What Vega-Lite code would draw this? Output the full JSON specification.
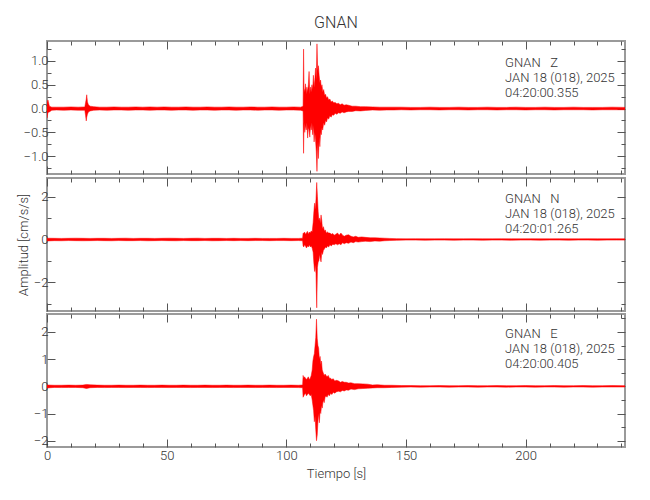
{
  "$schema": "https://vega.github.io/schema/vega-lite/v6.json",
  "padding": {"left": 16, "top": 13, "right": 20, "bottom": 10},
  "spacing": -1,
  "config": {
    "font": "Roboto, Liberation Sans, sans-serif",
    "view": {"stroke": "#9a9a9a", "strokeWidth": 2},
    "axis": {"labelFontSize": 13, "labelFontWeight": 300, "labelColor": "#333333", "titleFontSize": 13, "titleColor": "#333333", "titleFontWeight": 300, "domain": false, "grid": false, "tickColor": "#555555", "tickWidth": 1, "labelOverlap": false, "labelFlush": false, "labelBound": false},
    "title": {"fontSize": 16, "fontWeight": 300, "color": "#333333"}
  },
  "datasets": {
    "Z": [
      {"t":0,"lo":-0.2,"hi":0.12},{"t":0.4,"lo":-0.08,"hi":0.18},{"t":1,"lo":-0.07,"hi":0.05},{"t":2,"lo":-0.035,"hi":0.03},{"t":4,"lo":-0.03,"hi":0.03},{"t":7,"lo":-0.035,"hi":0.03},{"t":10,"lo":-0.03,"hi":0.035},{"t":13,"lo":-0.035,"hi":0.03},{"t":15.8,"lo":-0.035,"hi":0.035},{"t":16.1,"lo":-0.14,"hi":0.12},{"t":16.4,"lo":-0.26,"hi":0.2},{"t":16.6,"lo":-0.18,"hi":0.29},{"t":16.9,"lo":-0.12,"hi":0.14},{"t":17.3,"lo":-0.07,"hi":0.08},{"t":18,"lo":-0.05,"hi":0.05},{"t":19.5,"lo":-0.035,"hi":0.04},{"t":22,"lo":-0.03,"hi":0.03},{"t":25,"lo":-0.035,"hi":0.03},{"t":28,"lo":-0.03,"hi":0.035},{"t":31,"lo":-0.03,"hi":0.03},{"t":34,"lo":-0.035,"hi":0.03},{"t":37,"lo":-0.03,"hi":0.035},{"t":40,"lo":-0.03,"hi":0.03},{"t":43,"lo":-0.035,"hi":0.035},{"t":46,"lo":-0.03,"hi":0.03},{"t":49,"lo":-0.03,"hi":0.035},{"t":52,"lo":-0.035,"hi":0.03},{"t":55,"lo":-0.03,"hi":0.03},{"t":58,"lo":-0.03,"hi":0.035},{"t":61,"lo":-0.035,"hi":0.03},{"t":64,"lo":-0.03,"hi":0.03},{"t":67,"lo":-0.03,"hi":0.035},{"t":70,"lo":-0.035,"hi":0.03},{"t":73,"lo":-0.03,"hi":0.03},{"t":76,"lo":-0.03,"hi":0.035},{"t":79,"lo":-0.035,"hi":0.03},{"t":82,"lo":-0.03,"hi":0.03},{"t":85,"lo":-0.03,"hi":0.035},{"t":88,"lo":-0.035,"hi":0.03},{"t":91,"lo":-0.03,"hi":0.03},{"t":94,"lo":-0.03,"hi":0.035},{"t":97,"lo":-0.035,"hi":0.03},{"t":100,"lo":-0.03,"hi":0.03},{"t":103,"lo":-0.03,"hi":0.035},{"t":106,"lo":-0.035,"hi":0.03},
      {"t":107.0,"lo":-0.05,"hi":0.05},{"t":107.2,"lo":-0.94,"hi":1.25},{"t":107.4,"lo":-0.3,"hi":0.42},{"t":107.7,"lo":-0.5,"hi":0.35},{"t":108.0,"lo":-0.35,"hi":0.52},{"t":108.3,"lo":-0.45,"hi":0.3},{"t":108.6,"lo":-0.3,"hi":0.45},{"t":108.9,"lo":-0.62,"hi":0.35},{"t":109.2,"lo":-0.4,"hi":0.5},{"t":109.5,"lo":-0.45,"hi":0.78},{"t":109.8,"lo":-0.6,"hi":0.3},{"t":110.1,"lo":-0.35,"hi":0.45},{"t":110.4,"lo":-0.45,"hi":0.35},{"t":110.7,"lo":-0.3,"hi":0.5},{"t":111.0,"lo":-0.55,"hi":0.4},{"t":111.3,"lo":-0.35,"hi":0.7},{"t":111.6,"lo":-0.7,"hi":0.45},{"t":111.9,"lo":-0.5,"hi":0.6},{"t":112.2,"lo":-0.65,"hi":0.85},{"t":112.5,"lo":-0.9,"hi":0.6},{"t":112.8,"lo":-1.32,"hi":1.36},{"t":113.1,"lo":-0.7,"hi":0.8},{"t":113.4,"lo":-1.05,"hi":0.9},{"t":113.7,"lo":-0.6,"hi":0.7},{"t":114.0,"lo":-0.8,"hi":0.55},{"t":114.3,"lo":-0.5,"hi":0.6},{"t":114.6,"lo":-0.55,"hi":0.45},{"t":114.9,"lo":-0.4,"hi":0.5},{"t":115.2,"lo":-0.45,"hi":0.35},{"t":115.6,"lo":-0.3,"hi":0.4},{"t":116.0,"lo":-0.35,"hi":0.28},{"t":116.4,"lo":-0.25,"hi":0.3},{"t":116.8,"lo":-0.28,"hi":0.22},{"t":117.2,"lo":-0.2,"hi":0.25},{"t":117.7,"lo":-0.22,"hi":0.18},{"t":118.2,"lo":-0.15,"hi":0.2},{"t":118.7,"lo":-0.18,"hi":0.14},{"t":119.2,"lo":-0.13,"hi":0.16},{"t":119.8,"lo":-0.14,"hi":0.12},{"t":120.4,"lo":-0.1,"hi":0.13},{"t":121.1,"lo":-0.12,"hi":0.1},{"t":121.8,"lo":-0.09,"hi":0.11},{"t":122.5,"lo":-0.1,"hi":0.08},{"t":123.3,"lo":-0.07,"hi":0.1},{"t":124.1,"lo":-0.09,"hi":0.07},{"t":125.0,"lo":-0.07,"hi":0.08},{"t":126.0,"lo":-0.06,"hi":0.07},{"t":127.5,"lo":-0.06,"hi":0.05},{"t":129.0,"lo":-0.045,"hi":0.05},{"t":131.0,"lo":-0.05,"hi":0.04},{"t":133.0,"lo":-0.04,"hi":0.04},
      {"t":136,"lo":-0.03,"hi":0.035},{"t":139,"lo":-0.035,"hi":0.03},{"t":142,"lo":-0.03,"hi":0.03},{"t":145,"lo":-0.03,"hi":0.03},{"t":148,"lo":-0.025,"hi":0.03},{"t":152,"lo":-0.03,"hi":0.025},{"t":156,"lo":-0.025,"hi":0.025},{"t":160,"lo":-0.025,"hi":0.03},{"t":164,"lo":-0.03,"hi":0.025},{"t":168,"lo":-0.025,"hi":0.025},{"t":172,"lo":-0.025,"hi":0.03},{"t":176,"lo":-0.03,"hi":0.025},{"t":180,"lo":-0.025,"hi":0.025},{"t":184,"lo":-0.025,"hi":0.03},{"t":188,"lo":-0.03,"hi":0.025},{"t":192,"lo":-0.025,"hi":0.025},{"t":196,"lo":-0.025,"hi":0.03},{"t":200,"lo":-0.03,"hi":0.025},{"t":204,"lo":-0.025,"hi":0.025},{"t":208,"lo":-0.025,"hi":0.03},{"t":212,"lo":-0.03,"hi":0.025},{"t":216,"lo":-0.025,"hi":0.025},{"t":220,"lo":-0.025,"hi":0.03},{"t":224,"lo":-0.025,"hi":0.025},{"t":228,"lo":-0.03,"hi":0.025},{"t":232,"lo":-0.025,"hi":0.025},{"t":236,"lo":-0.025,"hi":0.03},{"t":241.5,"lo":-0.025,"hi":0.025}
    ],
    "N": [
      {"t":0,"lo":-0.07,"hi":0.06},{"t":3,"lo":-0.055,"hi":0.055},{"t":6,"lo":-0.06,"hi":0.05},{"t":9,"lo":-0.05,"hi":0.055},{"t":12,"lo":-0.055,"hi":0.06},{"t":15,"lo":-0.06,"hi":0.055},{"t":18,"lo":-0.055,"hi":0.05},{"t":21,"lo":-0.05,"hi":0.055},{"t":24,"lo":-0.055,"hi":0.055},{"t":27,"lo":-0.06,"hi":0.05},{"t":30,"lo":-0.05,"hi":0.055},{"t":33,"lo":-0.055,"hi":0.06},{"t":36,"lo":-0.055,"hi":0.05},{"t":39,"lo":-0.05,"hi":0.055},{"t":42,"lo":-0.06,"hi":0.055},{"t":45,"lo":-0.055,"hi":0.05},{"t":48,"lo":-0.05,"hi":0.055},{"t":51,"lo":-0.055,"hi":0.06},{"t":54,"lo":-0.06,"hi":0.055},{"t":57,"lo":-0.05,"hi":0.05},{"t":60,"lo":-0.055,"hi":0.055},{"t":63,"lo":-0.055,"hi":0.06},{"t":66,"lo":-0.05,"hi":0.05},{"t":69,"lo":-0.06,"hi":0.055},{"t":72,"lo":-0.055,"hi":0.055},{"t":75,"lo":-0.05,"hi":0.05},{"t":78,"lo":-0.055,"hi":0.055},{"t":81,"lo":-0.05,"hi":0.05},{"t":84,"lo":-0.055,"hi":0.05},{"t":87,"lo":-0.05,"hi":0.055},{"t":90,"lo":-0.05,"hi":0.05},{"t":93,"lo":-0.055,"hi":0.05},{"t":96,"lo":-0.05,"hi":0.05},{"t":99,"lo":-0.05,"hi":0.055},{"t":102,"lo":-0.055,"hi":0.05},{"t":105,"lo":-0.05,"hi":0.05},{"t":106.8,"lo":-0.06,"hi":0.06},
      {"t":107.0,"lo":-0.3,"hi":0.3},{"t":107.3,"lo":-0.35,"hi":0.28},{"t":107.6,"lo":-0.25,"hi":0.35},{"t":108.0,"lo":-0.3,"hi":0.25},{"t":108.4,"lo":-0.4,"hi":0.3},{"t":108.8,"lo":-0.3,"hi":0.38},{"t":109.2,"lo":-0.35,"hi":0.25},{"t":109.6,"lo":-0.25,"hi":0.35},{"t":110.0,"lo":-0.35,"hi":0.3},{"t":110.4,"lo":-0.3,"hi":0.4},{"t":110.8,"lo":-0.4,"hi":0.35},{"t":111.2,"lo":-0.6,"hi":0.8},{"t":111.5,"lo":-1.1,"hi":1.3},{"t":111.8,"lo":-1.5,"hi":1.7},{"t":112.1,"lo":-1.2,"hi":1.4},{"t":112.4,"lo":-1.6,"hi":1.9},{"t":112.7,"lo":-3.2,"hi":2.67},{"t":113.0,"lo":-1.3,"hi":2.0},{"t":113.3,"lo":-1.05,"hi":1.3},{"t":113.6,"lo":-1.0,"hi":0.9},{"t":113.9,"lo":-0.7,"hi":1.0},{"t":114.2,"lo":-0.9,"hi":0.75},{"t":114.5,"lo":-1.05,"hi":1.15},{"t":114.8,"lo":-0.6,"hi":0.9},{"t":115.1,"lo":-0.7,"hi":0.5},{"t":115.5,"lo":-0.5,"hi":0.6},{"t":115.9,"lo":-0.45,"hi":0.4},{"t":116.3,"lo":-0.35,"hi":0.45},{"t":116.7,"lo":-0.4,"hi":0.3},{"t":117.2,"lo":-0.3,"hi":0.35},{"t":117.7,"lo":-0.35,"hi":0.3},{"t":118.2,"lo":-0.25,"hi":0.3},{"t":118.8,"lo":-0.3,"hi":0.25},{"t":119.4,"lo":-0.22,"hi":0.28},{"t":120.0,"lo":-0.25,"hi":0.2},{"t":120.7,"lo":-0.2,"hi":0.25},{"t":121.4,"lo":-0.25,"hi":0.3},{"t":122.1,"lo":-0.2,"hi":0.2},{"t":122.8,"lo":-0.25,"hi":0.3},{"t":123.5,"lo":-0.15,"hi":0.2},{"t":124.2,"lo":-0.2,"hi":0.15},{"t":125.0,"lo":-0.15,"hi":0.2},{"t":126.0,"lo":-0.18,"hi":0.22},{"t":127.0,"lo":-0.12,"hi":0.15},{"t":128.0,"lo":-0.15,"hi":0.12},{"t":129.0,"lo":-0.1,"hi":0.15},{"t":130.0,"lo":-0.12,"hi":0.1},{"t":131.5,"lo":-0.1,"hi":0.12},{"t":133.0,"lo":-0.08,"hi":0.1},{"t":135.0,"lo":-0.1,"hi":0.08},{"t":137.0,"lo":-0.07,"hi":0.08},{"t":139.0,"lo":-0.08,"hi":0.07},{"t":141.0,"lo":-0.06,"hi":0.06},{"t":143.0,"lo":-0.05,"hi":0.05},
      {"t":146,"lo":-0.04,"hi":0.04},{"t":150,"lo":-0.03,"hi":0.03},{"t":154,"lo":-0.03,"hi":0.035},{"t":158,"lo":-0.035,"hi":0.03},{"t":162,"lo":-0.03,"hi":0.03},{"t":166,"lo":-0.03,"hi":0.035},{"t":170,"lo":-0.035,"hi":0.03},{"t":174,"lo":-0.03,"hi":0.03},{"t":178,"lo":-0.03,"hi":0.035},{"t":182,"lo":-0.035,"hi":0.03},{"t":186,"lo":-0.03,"hi":0.03},{"t":190,"lo":-0.03,"hi":0.035},{"t":194,"lo":-0.035,"hi":0.03},{"t":198,"lo":-0.03,"hi":0.03},{"t":202,"lo":-0.03,"hi":0.035},{"t":206,"lo":-0.035,"hi":0.03},{"t":210,"lo":-0.03,"hi":0.03},{"t":214,"lo":-0.03,"hi":0.035},{"t":218,"lo":-0.035,"hi":0.03},{"t":222,"lo":-0.03,"hi":0.03},{"t":226,"lo":-0.03,"hi":0.035},{"t":230,"lo":-0.035,"hi":0.03},{"t":234,"lo":-0.03,"hi":0.03},{"t":238,"lo":-0.03,"hi":0.035},{"t":241.5,"lo":-0.03,"hi":0.03}
    ],
    "E": [
      {"t":0,"lo":-0.06,"hi":0.05},{"t":3,"lo":-0.04,"hi":0.04},{"t":6,"lo":-0.045,"hi":0.04},{"t":9,"lo":-0.04,"hi":0.045},{"t":12,"lo":-0.04,"hi":0.04},{"t":15,"lo":-0.05,"hi":0.045},{"t":16.5,"lo":-0.08,"hi":0.07},{"t":18,"lo":-0.05,"hi":0.055},{"t":21,"lo":-0.04,"hi":0.045},{"t":24,"lo":-0.045,"hi":0.04},{"t":27,"lo":-0.04,"hi":0.04},{"t":30,"lo":-0.04,"hi":0.045},{"t":33,"lo":-0.045,"hi":0.04},{"t":36,"lo":-0.04,"hi":0.04},{"t":39,"lo":-0.04,"hi":0.045},{"t":42,"lo":-0.045,"hi":0.04},{"t":45,"lo":-0.04,"hi":0.04},{"t":48,"lo":-0.04,"hi":0.045},{"t":51,"lo":-0.045,"hi":0.04},{"t":54,"lo":-0.04,"hi":0.04},{"t":57,"lo":-0.04,"hi":0.045},{"t":60,"lo":-0.045,"hi":0.04},{"t":63,"lo":-0.04,"hi":0.04},{"t":66,"lo":-0.04,"hi":0.045},{"t":69,"lo":-0.045,"hi":0.04},{"t":72,"lo":-0.04,"hi":0.04},{"t":75,"lo":-0.04,"hi":0.045},{"t":78,"lo":-0.045,"hi":0.04},{"t":81,"lo":-0.04,"hi":0.04},{"t":84,"lo":-0.04,"hi":0.045},{"t":87,"lo":-0.045,"hi":0.04},{"t":90,"lo":-0.04,"hi":0.04},{"t":93,"lo":-0.04,"hi":0.045},{"t":96,"lo":-0.045,"hi":0.04},{"t":99,"lo":-0.04,"hi":0.04},{"t":102,"lo":-0.04,"hi":0.045},{"t":105,"lo":-0.045,"hi":0.04},{"t":106.8,"lo":-0.05,"hi":0.05},
      {"t":107.0,"lo":-0.4,"hi":0.4},{"t":107.3,"lo":-0.35,"hi":0.3},{"t":107.6,"lo":-0.3,"hi":0.35},{"t":108.0,"lo":-0.25,"hi":0.3},{"t":108.4,"lo":-0.35,"hi":0.25},{"t":108.8,"lo":-0.3,"hi":0.3},{"t":109.2,"lo":-0.25,"hi":0.35},{"t":109.6,"lo":-0.3,"hi":0.25},{"t":110.0,"lo":-0.35,"hi":0.3},{"t":110.4,"lo":-0.3,"hi":0.4},{"t":110.8,"lo":-0.5,"hi":0.6},{"t":111.1,"lo":-0.7,"hi":0.93},{"t":111.4,"lo":-0.9,"hi":1.1},{"t":111.7,"lo":-1.3,"hi":1.2},{"t":112.0,"lo":-1.1,"hi":1.5},{"t":112.3,"lo":-1.6,"hi":1.8},{"t":112.6,"lo":-2.0,"hi":2.47},{"t":112.9,"lo":-1.8,"hi":1.77},{"t":113.2,"lo":-1.3,"hi":1.5},{"t":113.5,"lo":-1.0,"hi":1.4},{"t":113.8,"lo":-1.34,"hi":1.0},{"t":114.1,"lo":-0.9,"hi":1.1},{"t":114.4,"lo":-1.0,"hi":0.8},{"t":114.7,"lo":-0.7,"hi":0.93},{"t":115.0,"lo":-0.8,"hi":0.6},{"t":115.4,"lo":-0.5,"hi":0.5},{"t":115.8,"lo":-0.6,"hi":0.4},{"t":116.2,"lo":-0.4,"hi":0.45},{"t":116.6,"lo":-0.35,"hi":0.4},{"t":117.0,"lo":-0.4,"hi":0.35},{"t":117.5,"lo":-0.3,"hi":0.4},{"t":118.0,"lo":-0.35,"hi":0.3},{"t":118.5,"lo":-0.25,"hi":0.3},{"t":119.0,"lo":-0.3,"hi":0.25},{"t":119.6,"lo":-0.22,"hi":0.28},{"t":120.2,"lo":-0.25,"hi":0.2},{"t":121.0,"lo":-0.2,"hi":0.22},{"t":121.8,"lo":-0.18,"hi":0.2},{"t":122.6,"lo":-0.2,"hi":0.15},{"t":123.4,"lo":-0.15,"hi":0.18},{"t":124.2,"lo":-0.17,"hi":0.15},{"t":125.0,"lo":-0.13,"hi":0.15},{"t":126.0,"lo":-0.14,"hi":0.12},{"t":127.0,"lo":-0.1,"hi":0.13},{"t":128.5,"lo":-0.12,"hi":0.1},{"t":130.0,"lo":-0.09,"hi":0.1},{"t":132.0,"lo":-0.08,"hi":0.09},{"t":134.0,"lo":-0.07,"hi":0.08},{"t":136.0,"lo":-0.06,"hi":0.05},{"t":138.0,"lo":-0.05,"hi":0.06},{"t":141.0,"lo":-0.05,"hi":0.04},{"t":144.0,"lo":-0.04,"hi":0.04},
      {"t":148,"lo":-0.03,"hi":0.03},{"t":152,"lo":-0.025,"hi":0.03},{"t":156,"lo":-0.03,"hi":0.025},{"t":160,"lo":-0.025,"hi":0.025},{"t":164,"lo":-0.025,"hi":0.03},{"t":168,"lo":-0.03,"hi":0.025},{"t":172,"lo":-0.025,"hi":0.025},{"t":176,"lo":-0.025,"hi":0.03},{"t":180,"lo":-0.03,"hi":0.025},{"t":184,"lo":-0.025,"hi":0.025},{"t":188,"lo":-0.025,"hi":0.03},{"t":192,"lo":-0.03,"hi":0.025},{"t":196,"lo":-0.025,"hi":0.025},{"t":200,"lo":-0.025,"hi":0.03},{"t":204,"lo":-0.03,"hi":0.025},{"t":208,"lo":-0.025,"hi":0.025},{"t":212,"lo":-0.025,"hi":0.03},{"t":216,"lo":-0.03,"hi":0.025},{"t":220,"lo":-0.025,"hi":0.025},{"t":224,"lo":-0.025,"hi":0.03},{"t":228,"lo":-0.03,"hi":0.025},{"t":232,"lo":-0.025,"hi":0.025},{"t":236,"lo":-0.025,"hi":0.03},{"t":241.5,"lo":-0.025,"hi":0.025}
    ]
  },
  "vconcat": [
    {
      "width": 578, "height": 133,
      "title": {"text": "GNAN", "frame": "group", "offset": 10},
      "layer": [
        {
          "data": {"name": "Z"},
          "mark": {"type": "area", "color": "#ff0000", "stroke": "#ff0000", "strokeWidth": 0.5, "clip": true},
          "encoding": {
            "x": {"field": "t", "type": "quantitative", "scale": {"domain": [0, 241.5], "nice": false, "zero": false},
                  "axis": {"orient": "bottom", "values": [0,10,20,30,40,50,60,70,80,90,100,110,120,130,140,150,160,170,180,190,200,210,220,230,240], "tickSize": {"condition": {"test": "datum.value % 50 === 0", "value": -8}, "value": -4}, "labels": false, "title": null}},
            "y": {"field": "hi", "type": "quantitative", "scale": {"domain": [-1.375, 1.42], "nice": false, "zero": false},
                  "axis": {"orient": "left", "values": [-1.25,-1,-0.75,-0.5,-0.25,0,0.25,0.5,0.75,1,1.25], "format": ".1f", "labelExpr": "datum.value % 0.5 === 0 ? datum.label : ''", "tickSize": {"condition": {"test": "datum.value % 0.5 === 0", "value": -8}, "value": -4}, "labelPadding": 7, "title": null}},
            "y2": {"field": "lo"}
          }
        },
        {
          "data": {"values": [{}]},
          "mark": {"type": "text", "align": "left", "baseline": "top", "fontSize": 13, "fontWeight": 300, "lineHeight": 15, "color": "#333333"},
          "encoding": {
            "x": {"datum": 191.4, "type": "quantitative", "scale": {"domain": [0, 241.5], "nice": false, "zero": false},
                  "axis": {"orient": "top", "values": [0,10,20,30,40,50,60,70,80,90,100,110,120,130,140,150,160,170,180,190,200,210,220,230,240], "tickSize": {"condition": {"test": "datum.value % 50 === 0", "value": -8}, "value": -4}, "labels": false, "title": null}},
            "y": {"datum": 1.09, "type": "quantitative", "scale": {"domain": [-1.375, 1.42], "nice": false, "zero": false},
                  "axis": {"orient": "right", "values": [-1.25,-1,-0.75,-0.5,-0.25,0,0.25,0.5,0.75,1,1.25], "tickSize": {"condition": {"test": "datum.value % 0.5 === 0", "value": -8}, "value": -4}, "labels": false, "title": null}},
            "text": {"value": ["GNAN\u00a0\u00a0\u00a0Z", "JAN 18 (018), 2025", "04:20:00.355"]}
          }
        }
      ],
      "resolve": {"axis": {"x": "independent", "y": "independent"}}
    },
    {
      "width": 578, "height": 133,
      "layer": [
        {
          "data": {"name": "N"},
          "mark": {"type": "area", "color": "#ff0000", "stroke": "#ff0000", "strokeWidth": 0.5, "clip": true},
          "encoding": {
            "x": {"field": "t", "type": "quantitative", "scale": {"domain": [0, 241.5], "nice": false, "zero": false},
                  "axis": {"orient": "bottom", "values": [0,10,20,30,40,50,60,70,80,90,100,110,120,130,140,150,160,170,180,190,200,210,220,230,240], "tickSize": {"condition": {"test": "datum.value % 50 === 0", "value": -8}, "value": -4}, "labels": false, "title": null}},
            "y": {"field": "hi", "type": "quantitative", "scale": {"domain": [-3.35, 2.88], "nice": false, "zero": false},
                  "axis": {"orient": "left", "values": [-3,-2,-1,0,1,2], "format": "d", "labelExpr": "datum.value % 2 === 0 ? datum.label : ''", "tickSize": {"condition": {"test": "datum.value % 2 === 0", "value": -8}, "value": -4}, "labelPadding": 7, "title": "Amplitud [cm/s/s]", "titlePadding": 3}},
            "y2": {"field": "lo"}
          }
        },
        {
          "data": {"values": [{}]},
          "mark": {"type": "text", "align": "left", "baseline": "top", "fontSize": 13, "fontWeight": 300, "lineHeight": 15, "color": "#333333"},
          "encoding": {
            "x": {"datum": 191.4, "type": "quantitative", "scale": {"domain": [0, 241.5], "nice": false, "zero": false},
                  "axis": {"orient": "top", "values": [0,10,20,30,40,50,60,70,80,90,100,110,120,130,140,150,160,170,180,190,200,210,220,230,240], "tickSize": {"condition": {"test": "datum.value % 50 === 0", "value": -8}, "value": -4}, "labels": false, "title": null}},
            "y": {"datum": 2.2, "type": "quantitative", "scale": {"domain": [-3.35, 2.88], "nice": false, "zero": false},
                  "axis": {"orient": "right", "values": [-3,-2,-1,0,1,2], "tickSize": {"condition": {"test": "datum.value % 2 === 0", "value": -8}, "value": -4}, "labels": false, "title": null}},
            "text": {"value": ["GNAN\u00a0\u00a0\u00a0N", "JAN 18 (018), 2025", "04:20:01.265"]}
          }
        }
      ],
      "resolve": {"axis": {"x": "independent", "y": "independent"}}
    },
    {
      "width": 578, "height": 133,
      "layer": [
        {
          "data": {"name": "E"},
          "mark": {"type": "area", "color": "#ff0000", "stroke": "#ff0000", "strokeWidth": 0.5, "clip": true},
          "encoding": {
            "x": {"field": "t", "type": "quantitative", "scale": {"domain": [0, 241.5], "nice": false, "zero": false},
                  "axis": {"orient": "bottom", "values": [0,10,20,30,40,50,60,70,80,90,100,110,120,130,140,150,160,170,180,190,200,210,220,230,240], "tickSize": {"condition": {"test": "datum.value % 50 === 0", "value": -8}, "value": -4}, "labels": true, "labelExpr": "datum.value % 50 === 0 ? datum.label : ''", "labelPadding": 10, "title": "Tiempo [s]", "titlePadding": 1}},
            "y": {"field": "hi", "type": "quantitative", "scale": {"domain": [-2.23, 2.66], "nice": false, "zero": false},
                  "axis": {"orient": "left", "values": [-2,-1.5,-1,-0.5,0,0.5,1,1.5,2,2.5], "format": "d", "labelExpr": "datum.value % 1 === 0 ? datum.label : ''", "tickSize": {"condition": {"test": "datum.value % 1 === 0", "value": -8}, "value": -4}, "labelPadding": 7, "title": null}},
            "y2": {"field": "lo"}
          }
        },
        {
          "data": {"values": [{}]},
          "mark": {"type": "text", "align": "left", "baseline": "top", "fontSize": 13, "fontWeight": 300, "lineHeight": 15, "color": "#333333"},
          "encoding": {
            "x": {"datum": 191.4, "type": "quantitative", "scale": {"domain": [0, 241.5], "nice": false, "zero": false},
                  "axis": {"orient": "top", "values": [0,10,20,30,40,50,60,70,80,90,100,110,120,130,140,150,160,170,180,190,200,210,220,230,240], "tickSize": {"condition": {"test": "datum.value % 50 === 0", "value": -8}, "value": -4}, "labels": false, "title": null}},
            "y": {"datum": 2.16, "type": "quantitative", "scale": {"domain": [-2.23, 2.66], "nice": false, "zero": false},
                  "axis": {"orient": "right", "values": [-2,-1.5,-1,-0.5,0,0.5,1,1.5,2,2.5], "tickSize": {"condition": {"test": "datum.value % 1 === 0", "value": -8}, "value": -4}, "labels": false, "title": null}},
            "text": {"value": ["GNAN\u00a0\u00a0\u00a0E", "JAN 18 (018), 2025", "04:20:00.405"]}
          }
        }
      ],
      "resolve": {"axis": {"x": "independent", "y": "independent"}}
    }
  ]
}
